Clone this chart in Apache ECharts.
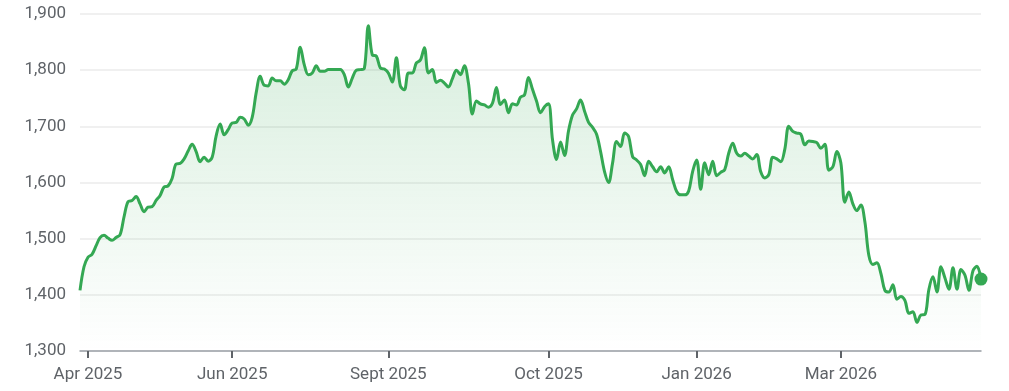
<!DOCTYPE html>
<html>
<head>
<meta charset="utf-8">
<script src="https://cdn.jsdelivr.net/npm/echarts@6/dist/echarts.min.js"></script>
<style>
html,body{margin:0;padding:0;background:#fff;}
#chart{width:1009px;height:391px;}
</style>
</head>
<body>
<div id="chart"></div>
<script>
// Daily closing values (oldest to newest)
const prices = [
1408,1450,1467,1472,1487,1502,1506,1501,1497,1502,
1507,1539,1566,1568,1575,1562,1548,1556,1557,1568,
1577,1592,1594,1607,1633,1634,1642,1656,1668,1655,
1637,1645,1638,1645,1683,1704,1685,1694,1706,1707,
1716,1713,1702,1716,1760,1789,1773,1772,1786,1781,
1781,1775,1783,1799,1802,1841,1810,1792,1795,1808,
1798,1798,1801,1801,1801,1801,1792,1770,1786,1800,
1801,1803,1879,1827,1825,1804,1802,1795,1779,1822,
1772,1765,1795,1795,1813,1818,1840,1795,1801,1778,
1782,1777,1770,1785,1800,1792,1808,1777,1722,1745,
1740,1738,1734,1741,1769,1739,1747,1724,1740,1738,
1752,1756,1787,1766,1745,1724,1735,1740,1676,1641,
1672,1648,1692,1720,1731,1747,1727,1707,1698,1686,
1655,1619,1600,1635,1673,1664,1688,1682,1646,1640,
1632,1612,1638,1628,1619,1628,1617,1628,1605,1584,
1578,1578,1585,1620,1640,1588,1635,1614,1638,1612,
1618,1623,1652,1670,1652,1647,1652,1647,1642,1650,
1619,1608,1614,1645,1642,1637,1659,1700,1691,1688,
1686,1667,1674,1673,1671,1661,1668,1622,1628,1655,
1635,1565,1583,1562,1550,1560,1530,1470,1454,1457,
1438,1408,1405,1418,1392,1397,1390,1367,1370,1351,
1364,1365,1410,1432,1405,1450,1430,1410,1448,1410,
1445,1435,1408,1443,1451,1428
];
// Axis tick labels and the data index they sit on
const tickLabels = ['Apr 2025','Jun 2025','Sept 2025','Oct 2025','Jan 2026','Mar 2026'];
const tickIndex  = [2, 38, 77, 117, 154, 190];
// Y axis range
const yMin = 1300, yMax = 1900, yStep = 100;

const categories = prices.map((_, i) => {
  const k = tickIndex.indexOf(i);
  return k >= 0 ? tickLabels[k] : String(i);
});
const lastIdx = prices.length - 1;
const isTick = (i) => tickIndex.indexOf(i) >= 0;

const chart = echarts.init(document.getElementById('chart'), null, {renderer: 'canvas'});
chart.setOption({
  animation: false,
  grid: {left: 80, right: 28, top: 14, bottom: 40, containLabel: false},
  xAxis: {
    type: 'category',
    data: categories,
    boundaryGap: false,
    axisLine: {show: true, lineStyle: {color: '#9aa0a6', width: 1.5}},
    axisTick: {show: true, interval: (i) => isTick(i), length: 7, lineStyle: {color: '#5f6368', width: 2}},
    axisLabel: {
      interval: (i) => isTick(i),
      color: '#5f6368',
      fontFamily: 'Roboto',
      fontSize: 17,
      margin: 15
    },
    splitLine: {show: false}
  },
  yAxis: {
    type: 'value',
    min: yMin, max: yMax, interval: yStep,
    axisLine: {show: false},
    axisTick: {show: false},
    axisLabel: {
      color: '#5f6368',
      fontFamily: 'Roboto',
      fontSize: 17,
      margin: 14,
      formatter: (v) => v.toLocaleString('en-US')
    },
    splitLine: {show: true, lineStyle: {color: '#ebebeb', width: 1.5}}
  },
  series: [{
    type: 'line',
    data: prices,
    smooth: 0.35,
    symbol: 'circle',
    showSymbol: true,
    showAllSymbol: true,
    symbolSize: (v, p) => (p.dataIndex === lastIdx ? 13 : 0),
    itemStyle: {color: '#34a853'},
    lineStyle: {color: '#34a853', width: 3},
    areaStyle: {
      color: new echarts.graphic.LinearGradient(0, 0, 0, 1, [
        {offset: 0, color: 'rgba(52,168,83,0.28)'},
        {offset: 1, color: 'rgba(52,168,83,0.0)'}
      ])
    },
    emphasis: {disabled: true}
  }]
});
</script>
</body>
</html>
